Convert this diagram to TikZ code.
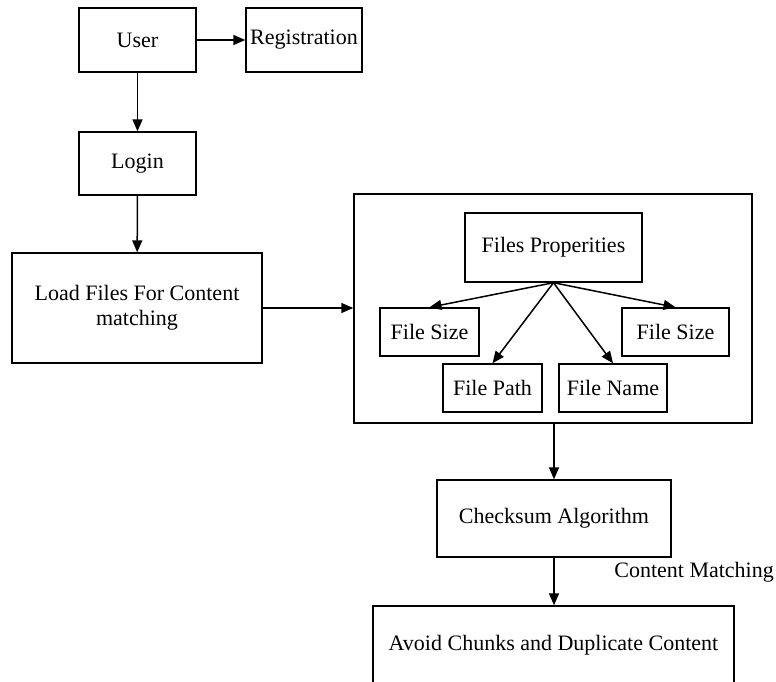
\documentclass[tikz,border=0pt]{standalone}
\usepackage{fontspec}
\setmainfont{Liberation Serif}
\usetikzlibrary{arrows.meta}
\tikzset{
  blk/.style={draw, line width=1.4pt, inner sep=2pt, align=center,
    font=\fontsize{22}{25}\selectfont},
  flow/.style={line width=1.5pt, -{Triangle[length=12pt,width=10pt]}}
}

\begin{document}
\begin{tikzpicture}[x=1pt, y=-1pt]
  \clip (0,0) rectangle (776,682);
  % left column
  \node[blk, minimum width=117pt, minimum height=64pt] (user) at (137.5,40) {User};
  \node[blk, minimum width=116pt, minimum height=64pt] (reg) at (304,40) {Registration};
  \node[blk, minimum width=117pt, minimum height=63pt] (login) at (137.5,163.5) {Login};
  \node[blk, minimum width=250pt, minimum height=110pt] (load) at (137,308)
    {Load Files For Content\\matching};
  % file properties
  \node[blk, minimum width=398pt, minimum height=229pt] (props) at (553,308.5) {};
  \node[blk, minimum width=177pt, minimum height=69pt] (fp) at (553.5,247.5) {Files Properities};
  \node[blk, minimum width=99pt, minimum height=48pt] (sizea) at (429.5,332) {File Size};
  \node[blk, minimum width=107pt, minimum height=48pt] (sizeb) at (675.5,332) {File Size};
  \node[blk, minimum width=99pt, minimum height=48pt] (path) at (492.5,388) {File Path};
  \node[blk, minimum width=108pt, minimum height=48pt] (name) at (613,388) {File Name};
  % lower part
  \node[blk, minimum width=234pt, minimum height=77pt] (chk) at (554,518.5) {Checksum Algorithm};
  \node[blk, minimum width=361pt, minimum height=78pt] (avoid) at (553.5,645)
    {Avoid Chunks and Duplicate Content};
  \node[anchor=east, inner sep=0pt, font=\fontsize{22}{25}\selectfont] (cm) at (774,572)
    {Content Matching};

  \draw[flow] (user) -- (reg);
  \draw[flow] (user) -- (login);
  \draw[flow] (login) -- (load);
  \draw[flow] (load.east) -- (load.east -| props.west);
  \foreach \t in {sizea,path,name,sizeb}{
    \draw[flow] (fp.south) -- (\t.north);
  }
  \draw[flow] (props.south -| chk.north) -- (chk.north);
  \draw[flow] (chk) -- (chk.south |- avoid.north);
\end{tikzpicture}
\end{document}
